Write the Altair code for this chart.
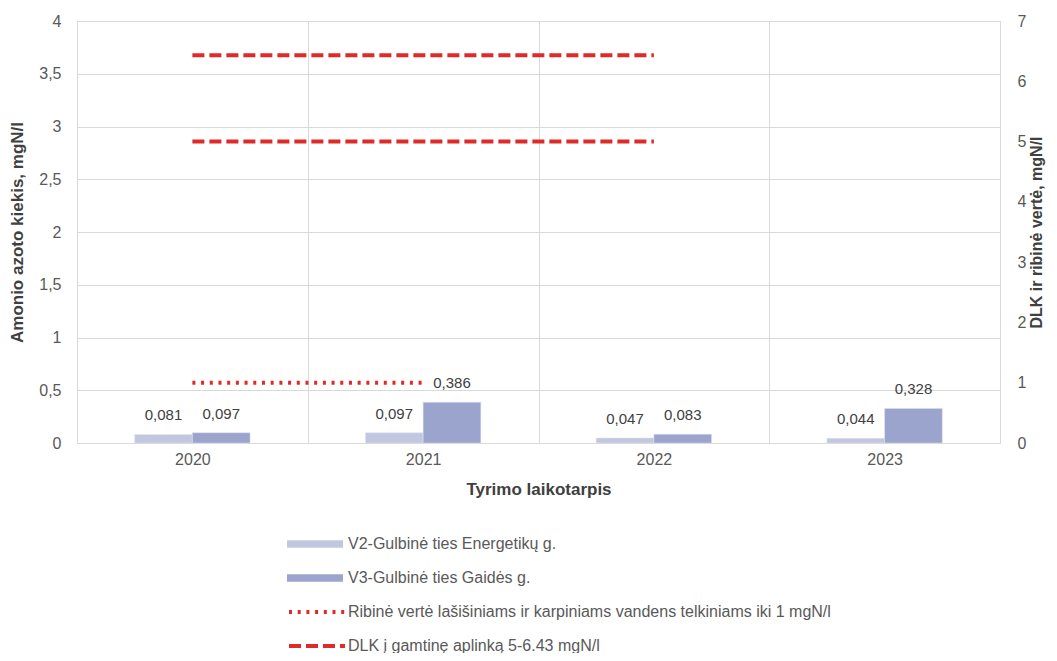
import altair as alt
import pandas as pd

years = ["2020", "2021", "2022", "2023"]
series = ["V2-Gulbinė ties Energetikų g.", "V3-Gulbinė ties Gaidės g."]
v2_values = [0.081, 0.097, 0.047, 0.044]
v3_values = [0.097, 0.386, 0.083, 0.328]

ribine_label = "Ribinė vertė lašišiniams ir karpiniams vandens telkiniams iki 1 mgN/l"
dlk_label = "DLK į gamtinę aplinką 5-6.43 mgN/l"
ribine_years = ["2020", "2021"]
ribine_value = 1.0
dlk_years = ["2020", "2021", "2022"]
dlk_low = 5.0
dlk_high = 6.43

bar_colors = ["#c2c7e0", "#9aa4cd"]
red = "#e02a2a"
FONT = "Liberation Sans, Arial, sans-serif"

rows = []
for i, y in enumerate(years):
    rows.append({"year": y, "series": series[0], "value": v2_values[i]})
    rows.append({"year": y, "series": series[1], "value": v3_values[i]})
bars_df = pd.DataFrame(rows)

line_rows = []
for y in ribine_years:
    line_rows.append({"year": y, "kind": ribine_label, "grp": "r", "value": ribine_value})
for y in dlk_years:
    line_rows.append({"year": y, "kind": dlk_label, "grp": "d1", "value": dlk_low})
for y in dlk_years:
    line_rows.append({"year": y, "kind": dlk_label, "grp": "d2", "value": dlk_high})
lines_df = pd.DataFrame(line_rows)

x_enc = alt.X(
    "year:N",
    sort=years,
    scale=alt.Scale(paddingInner=0, paddingOuter=0),
    axis=alt.Axis(
        title="Tyrimo laikotarpis",
        labelAngle=0,
        tickBand="extent",
        grid=True,
        gridColor="#d9d9d9",
        ticks=False,
        domain=False,
        labelFont=FONT,
        labelFontSize=16,
        labelColor="#595959",
        labelPadding=8,
        titleFont=FONT,
        titleFontSize=17,
        titleFontWeight="bold",
        titleColor="#404040",
        titlePadding=14,
    ),
)

left_y = alt.Y(
    "value:Q",
    scale=alt.Scale(domain=[0, 4], nice=False),
    axis=alt.Axis(
        title="Amonio azoto kiekis, mgN/l",
        values=[0, 0.5, 1, 1.5, 2, 2.5, 3, 3.5, 4],
        labelExpr="replace(toString(datum.value), '.', ',')",
        grid=True,
        gridColor="#d9d9d9",
        ticks=False,
        domain=False,
        labelFont=FONT,
        labelFontSize=16,
        labelColor="#595959",
        labelPadding=16,
        titleFont=FONT,
        titleFontSize=17,
        titleFontWeight="bold",
        titleColor="#404040",
        titlePadding=12,
    ),
)

bars = alt.Chart(bars_df).mark_bar(stroke="#dfe2ef", strokeWidth=0.5).encode(
    x=x_enc,
    xOffset=alt.XOffset("series:N", sort=series,
                        scale=alt.Scale(paddingInner=0, paddingOuter=1)),
    y=left_y,
    fill=alt.Fill(
        "series:N",
        sort=series,
        scale=alt.Scale(domain=series, range=bar_colors),
        legend=alt.Legend(
            title=None,
            orient="none",
            legendX=210,
            legendY=515,
            direction="vertical",
            symbolType="M-1,-0.13H1V0.13H-1Z",
            symbolSize=3136,
            symbolStrokeWidth=0,
            clipHeight=16,
            rowPadding=18,
            labelFont=FONT,
            labelFontSize=16,
            labelColor="#595959",
            labelOffset=5,
            labelLimit=700,
            padding=0,
        ),
    ),
)

labels = alt.Chart(bars_df).transform_calculate(
    lbl="replace(format(datum.value, '.3f'), '.', ',')"
).mark_text(
    baseline="alphabetic", dy=-14, font=FONT, fontSize=15, color="#404040"
).encode(
    x=alt.X("year:N", sort=years),
    xOffset=alt.XOffset("series:N", sort=series),
    y=alt.Y("value:Q"),
    text="lbl:N",
)

lines = alt.Chart(lines_df).mark_line(color=red, strokeWidth=4).encode(
    x=alt.X("year:N", sort=years),
    y=alt.Y(
        "value:Q",
        scale=alt.Scale(domain=[0, 7], nice=False),
        axis=alt.Axis(
            title="DLK ir ribinė vertė, mgN/l",
            orient="right",
            values=[0, 1, 2, 3, 4, 5, 6, 7],
            grid=False,
            ticks=False,
            domain=False,
            labelFont=FONT,
            labelFontSize=16,
            labelColor="#595959",
            labelPadding=17,
            titleFont=FONT,
            titleFontSize=16,
            titleFontWeight="bold",
            titleColor="#404040",
            titleAngle=270,
            titlePadding=19,
        ),
    ),
    detail="grp:N",
    strokeDash=alt.StrokeDash(
        "kind:N",
        scale=alt.Scale(domain=[ribine_label, dlk_label], range=[[3, 5.7], [12, 5]]),
        legend=alt.Legend(
            title=None,
            orient="none",
            legendX=210,
            legendY=583,
            direction="vertical",
            symbolType="stroke",
            symbolSize=3136,
            symbolStrokeColor=red,
            symbolStrokeWidth=4,
            clipHeight=16,
            rowPadding=18,
            labelFont=FONT,
            labelFontSize=16,
            labelColor="#595959",
            labelOffset=1,
            labelLimit=700,
            padding=0,
        ),
    ),
)

chart = alt.layer(
    alt.layer(bars, labels), lines
).resolve_scale(y="independent").properties(
    width=923,
    height=422,
    autosize=alt.AutoSizeParams(type="none"),
    padding={"left": 69, "top": 13, "right": 49, "bottom": 210},
).configure_view(stroke="#d9d9d9")

chart.save("out.html", embed_options={"renderer": "svg", "actions": False})
